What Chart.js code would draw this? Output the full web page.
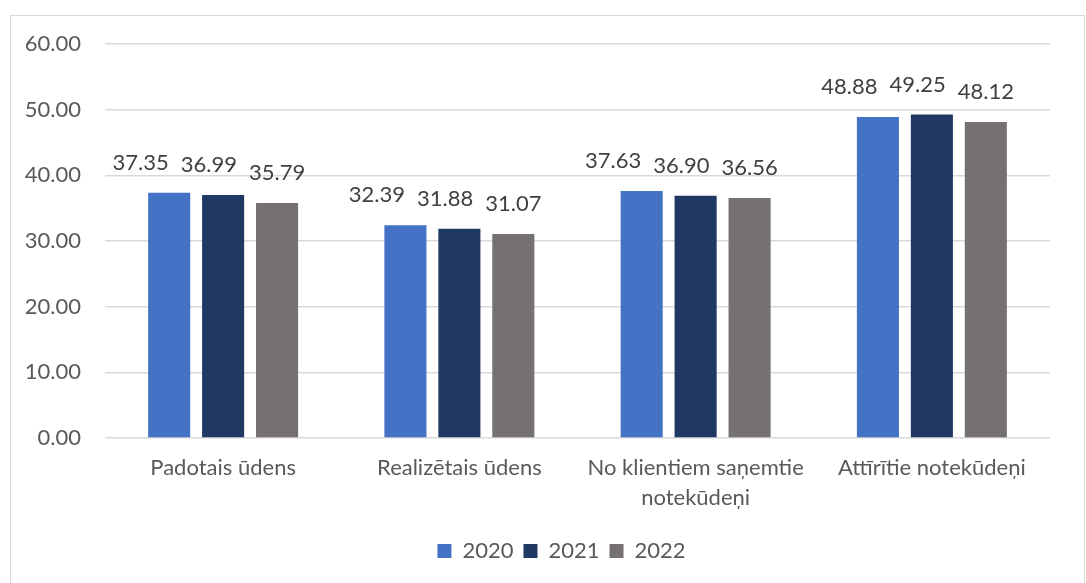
<!DOCTYPE html>
<html>
<head>
<meta charset="utf-8">
<script src="https://cdn.jsdelivr.net/npm/chart.js@4"></script>
<style>
  body { margin: 0; background: #fff; }
  #wrap { position: absolute; left: 10px; top: 15px; width: 1075px; height: 570px; border: 1px solid #d9d9d9; box-sizing: border-box; }
</style>
</head>
<body>
<div id="wrap"><canvas id="grafico"></canvas></div>
<script>
// dati
const kategorijas = ['Padotais ūdens', 'Realizētais ūdens', ['No klientiem saņemtie', 'notekūdeņi'], 'Attīrītie notekūdeņi']
const gadi = ['2020', '2021', '2022']
const v2020 = [37.35, 32.39, 37.63, 48.88]
const v2021 = [36.99, 31.88, 36.90, 49.25]
const v2022 = [35.79, 31.07, 36.56, 48.12]
const krasas = ['#4472C4', '#203864', '#767171']

const fontName = 'Lato, "Open Sans", sans-serif'

// vertibu etiketes virs stabiem (ja parklajas, nobida pa kreisi)
const valueLabels = {
    id: 'valueLabels',
    afterDatasetsDraw(chart) {
        const ctx = chart.ctx
        const gap = 12
        ctx.save()
        ctx.font = `22px ${fontName}`
        ctx.fillStyle = '#404040'
        ctx.textAlign = 'center'
        ctx.textBaseline = 'bottom'
        const nSets = chart.data.datasets.length
        chart.data.labels.forEach((_, j) => {
            const items = []
            for (let i = 0; i < nSets; i++) {
                const bar = chart.getDatasetMeta(i).data[j]
                const txt = chart.data.datasets[i].data[j].toFixed(2)
                items.push({ txt, x: bar.x, y: bar.y - 19, w: ctx.measureText(txt).width })
            }
            for (let i = nSets - 2; i >= 0; i--) {
                const next = items[i + 1]
                const maxRight = next.x - next.w / 2 - gap
                if (items[i].x + items[i].w / 2 > maxRight) items[i].x = maxRight - items[i].w / 2
            }
            items.forEach((it) => ctx.fillText(it.txt, it.x, it.y))
        })
        ctx.restore()
    }
}

// legendu nedaudz pa labi (centrets vairak uz zimejuma laukumu)
const legendShift = {
    id: 'legendShift',
    afterLayout(chart) {
        if (chart.legend) {
            chart.legend.left += 62
        }
    }
}

const config = {
    type: 'bar',
    data: {
        labels: kategorijas,
        datasets: [
            { label: gadi[0], data: v2020, backgroundColor: krasas[0] },
            { label: gadi[1], data: v2021, backgroundColor: krasas[1] },
            { label: gadi[2], data: v2022, backgroundColor: krasas[2] }
        ]
    },
    options: {
        responsive: true,
        maintainAspectRatio: false,
        animation: false,
        categoryPercentage: 0.685,
        barPercentage: 0.78,
        layout: { padding: { top: 28, right: 34, bottom: 12, left: 0 } },
        scales: {
            y: {
                min: 0,
                max: 60,
                ticks: {
                    stepSize: 10,
                    padding: 0,
                    color: '#595959',
                    font: { family: fontName, size: 22 },
                    callback: (v) => v.toFixed(2)
                },
                // tick linijas neredzamas, tikai atstarpe lidz etiketem
                grid: { color: '#d9d9d9', lineWidth: 1.5, drawTicks: true, tickLength: 24, tickColor: 'rgba(0,0,0,0)' },
                border: { display: false },
                afterFit: (scale) => { scale.width = 94 }
            },
            x: {
                ticks: {
                    color: '#595959',
                    font: { family: fontName, size: 22, lineHeight: 1.36 },
                    padding: 7
                },
                grid: { display: false },
                border: { display: false },
                afterFit: (scale) => { scale.height = 92 }
            }
        },
        plugins: {
            legend: {
                position: 'bottom',
                labels: {
                    boxWidth: 14,
                    boxHeight: 14,
                    padding: 10,
                    color: '#595959',
                    font: { family: fontName, size: 22 }
                }
            },
            tooltip: { enabled: false }
        }
    },
    plugins: [valueLabels, legendShift]
}

const chartjs = new Chart(document.getElementById('grafico'), config)
</script>
</body>
</html>
